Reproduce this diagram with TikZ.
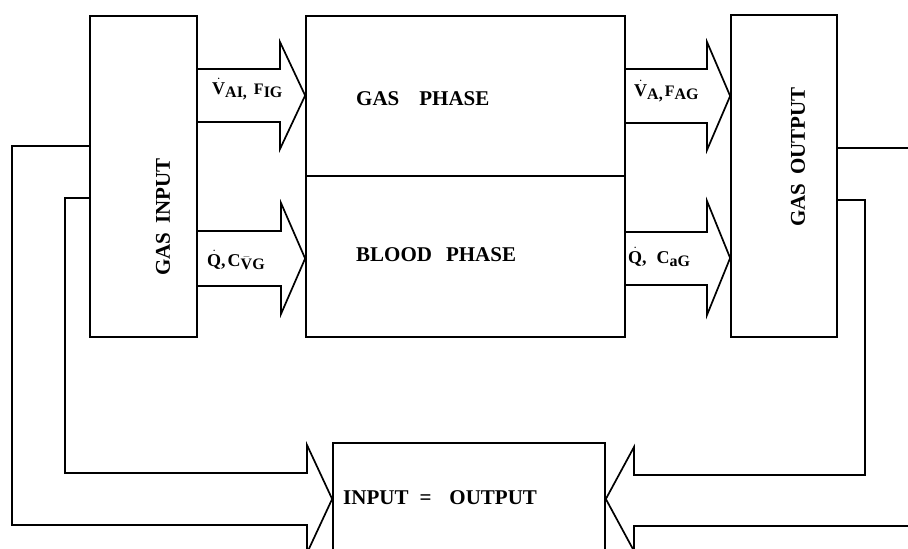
\documentclass[tikz,border=0pt]{standalone}
\usepackage{fontspec}
\setmainfont{Liberation Serif}
\newcommand\lsb[1]{\raisebox{-0.4ex}{\fontsize{16}{17}\selectfont #1}}
\begin{document}
\begin{tikzpicture}[x=1pt,y=-1pt,line join=miter,
  blk/.style={draw,rectangle,inner sep=0pt,line width=1.7pt},
  flow/.style={draw,line width=1.7pt},
  lbl/.style={font=\bfseries\fontsize{21}{23}\selectfont,inner sep=0pt},
  sym/.style={font=\bfseries\fontsize{18}{20}\selectfont,inner sep=0pt,anchor=base west}]
\useasboundingbox (0,0) rectangle (908,549);
\clip (0,0) rectangle (908,549);
% boxes
\node[blk,minimum width=107pt,minimum height=321pt] (gin) at (143.5,176.5) {};
\node[blk,minimum width=319pt,minimum height=160pt] (gph) at (465.5,96) {};
\node[blk,minimum width=319pt,minimum height=161pt] (bph) at (465.5,256.5) {};
\node[blk,minimum width=106pt,minimum height=322pt] (gout) at (784,176) {};
\node[blk,minimum width=272pt,minimum height=112pt] (io) at (469,499) {};
% texts
\node[lbl,rotate=90] (tgin) at (163,217) {GAS\hspace{9pt}INPUT};
\node[lbl,rotate=90] (tgout) at (798,157) {GAS\hspace{9pt}OUTPUT};
\node[lbl,anchor=west] (tgp) at (356,99) {GAS\hspace{20pt}PHASE};
\node[lbl,anchor=west] (tbp) at (356,255) {BLOOD\hspace{14pt}PHASE};
\node[lbl,anchor=west] (tio) at (343,498) {INPUT\hspace{11pt}=\hspace{18pt}OUTPUT};
% fat arrows between boxes
\draw[flow] (gin.east |- 0,69) -- (280,69) -- (280,42) -- (gph.west |- 0,95.5) -- (280,149) -- (280,122) -- (gin.east |- 0,122);
\draw[flow] (gin.east |- 0,231) -- (281,231) -- (281,203) -- (bph.west |- 0,258.5) -- (281,314) -- (281,286) -- (gin.east |- 0,286);
\draw[flow] (gph.east |- 0,69) -- (707,69) -- (707,42) -- (gout.west |- 0,96) -- (707,150) -- (707,123) -- (gph.east |- 0,123);
\draw[flow] (bph.east |- 0,232) -- (707,232) -- (707,201) -- (gout.west |- 0,258) -- (707,315) -- (707,285) -- (bph.east |- 0,285);
% feedback arrows
\draw[flow] (gin.west |- 0,146) -- (12,146) -- (12,525) -- (307,525) -- (307,553) -- (io.west) -- (307,445) -- (307,473) -- (65,473) -- (65,198) -- (gin.west |- 0,198);
\draw[flow] (gout.east |- 0,200) -- (865,200) -- (865,475) -- (634,475) -- (634,447) -- (io.east) -- (634,551) -- (634,526) -- (920,526) -- (920,148) -- (gout.east |- 0,148);
% flow labels
\node[sym] (l1) at (212,94) {$\dot{\hbox{V}}$\lsb{AI,}\hspace{7pt}{\fontsize{16}{17}\selectfont F}\lsb{IG}};
\node[sym] (l2) at (207,266) {$\dot{\hbox{Q}}$,\hspace{2pt}C\lsb{$\bar{\hbox{V}}$G}};
\node[sym] (l3) at (634,96) {$\dot{\hbox{V}}$\lsb{A,}\hspace{2pt}{\fontsize{16}{17}\selectfont F}\lsb{AG}};
\node[sym] (l4) at (628,263) {$\dot{\hbox{Q}}$,\hspace{10pt}C\lsb{aG}};
\end{tikzpicture}
\end{document}
